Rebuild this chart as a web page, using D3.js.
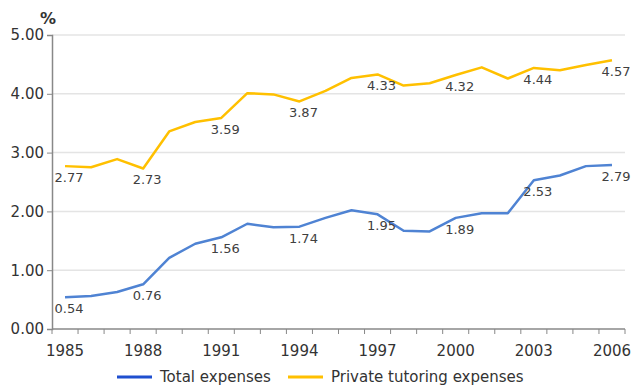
<!DOCTYPE html>
<html>
<head>
<meta charset="utf-8">
<script src="https://cdn.jsdelivr.net/npm/d3@7"></script>
<style>
	body { margin: 0; background: #fff; }
	text { font-family: "DejaVu Sans", Verdana, sans-serif; fill: #333; }
</style>
</head>
<body>
<svg id="chart" width="632" height="389"></svg>
<script>
var years = d3.range(1985, 2007);
var totalExpenses = [0.54, 0.56, 0.63, 0.76, 1.21, 1.45, 1.56, 1.79, 1.73, 1.74, 1.89,
	2.02, 1.95, 1.67, 1.66, 1.89, 1.97, 1.97, 2.53, 2.61, 2.77, 2.79];
var tutoringExpenses = [2.77, 2.75, 2.89, 2.73, 3.36, 3.52, 3.59, 4.01, 3.99, 3.87, 4.05,
	4.27, 4.33, 4.14, 4.18, 4.32, 4.45, 4.26, 4.44, 4.40, 4.49, 4.57];
var labelYears = [1985, 1988, 1991, 1994, 1997, 2000, 2003, 2006];
var yTicks = [0, 1, 2, 3, 4, 5];
var seriesNames = ["Total expenses", "Private tutoring expenses"];

var svg = d3.select("#chart");
var margin = {left: 52, right: 7, top: 35, bottom: 60};
var width = 632, height = 389;

var x = d3.scaleBand()
	.domain(years)
	.range([margin.left, width - margin.right]);
var y = d3.scaleLinear()
	.domain([0, 5])
	.range([height - margin.bottom, margin.top]);

//gridlines
svg.append("g")
	.selectAll("line")
	.data(yTicks.slice(1))
	.enter().append("line")
		.attr("x1", margin.left)
		.attr("x2", width - margin.right)
		.attr("y1", function(d) {return y(d);})
		.attr("y2", function(d) {return y(d);})
		.attr("stroke", "#e4e4e4")
		.attr("stroke-width", 1.5);

//y axis
var yAxis = svg.append("g")
	.attr("transform", "translate(" + margin.left + ",0)")
	.call(d3.axisLeft(y).tickValues(yTicks).tickFormat(d3.format(".2f")).tickSize(5).tickPadding(3));
yAxis.selectAll("text").style("font-size", "15px");
yAxis.select(".domain").attr("stroke", "#888").attr("stroke-width", 1.5);
yAxis.selectAll(".tick line").attr("stroke", "#888");

//x axis, ticks between categories
var xAxisG = svg.append("g")
	.attr("transform", "translate(0," + y(0) + ")");
xAxisG.append("line")
	.attr("x1", margin.left)
	.attr("x2", width - margin.right)
	.attr("stroke", "#888")
	.attr("stroke-width", 1.5);
xAxisG.selectAll(".tick-mark")
	.data(years.concat(2007))
	.enter().append("line")
		.attr("class", "tick-mark")
		.attr("x1", function(d) {return d === 2007 ? x.range()[1] : x(d);})
		.attr("x2", function(d) {return d === 2007 ? x.range()[1] : x(d);})
		.attr("y2", 5)
		.attr("stroke", "#888");
xAxisG.selectAll(".tick-label")
	.data(labelYears)
	.enter().append("text")
		.attr("class", "tick-label")
		.attr("x", function(d) {return x(d) + x.bandwidth() / 2;})
		.attr("y", 27)
		.attr("text-anchor", "middle")
		.style("font-size", "15px")
		.text(function(d) {return d;});

svg.append("text")
	.attr("x", 48)
	.attr("y", 24)
	.attr("text-anchor", "middle")
	.style("font-size", "16px")
	.style("font-weight", "bold")
	.text("%");

var series = [
	{name: seriesNames[1], values: tutoringExpenses, colour: "#ffc000", legend: "#ffc000"},
	{name: seriesNames[0], values: totalExpenses, colour: "#4f83d3", legend: "#1f4fcf"}
];

var line = d3.line()
	.x(function(d, i) {return x(years[i]) + x.bandwidth() / 2;})
	.y(function(d) {return y(d);});

series.forEach(function(s){
	svg.append("path")
		.datum(s.values)
		.attr("fill", "none")
		.attr("stroke", s.colour)
		.attr("stroke-width", 2.5)
		.attr("stroke-linejoin", "round")
		.attr("d", line);

	svg.append("g")
		.selectAll("text")
		.data(labelYears)
		.enter().append("text")
			.attr("x", function(d) {return x(d) + x.bandwidth() / 2 + 4;})
			.attr("y", function(d) {return y(s.values[years.indexOf(d)]) + 16;})
			.attr("text-anchor", "middle")
			.style("font-size", "13px")
			.style("fill", "#404040")
			.text(function(d) {return s.values[years.indexOf(d)].toFixed(2);});
});

//legend
var legend = svg.append("g");
var legendItems = [
	{name: seriesNames[0], colour: series[1].legend, x: 117},
	{name: seriesNames[1], colour: series[0].legend, x: 288}
];
legendItems.forEach(function(l){
	legend.append("line")
		.attr("x1", l.x)
		.attr("x2", l.x + 35)
		.attr("y1", 377)
		.attr("y2", 377)
		.attr("stroke", l.colour)
		.attr("stroke-width", 3);
	legend.append("text")
		.attr("x", l.x + 43)
		.attr("y", 382)
		.style("font-size", "15px")
		.text(l.name);
});
</script>
</body>
</html>
